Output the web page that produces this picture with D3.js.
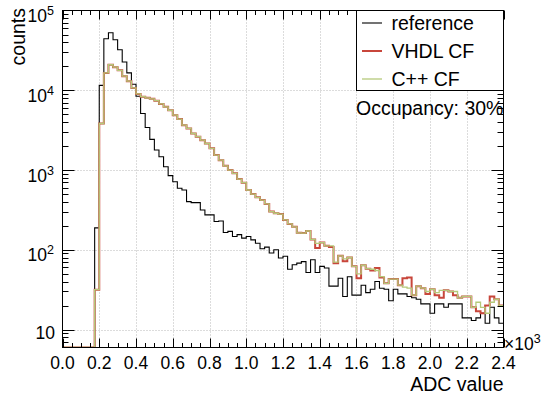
<!DOCTYPE html>
<html><head><meta charset="utf-8">
<script src="https://cdn.jsdelivr.net/npm/d3@7"></script>
<style>
body{margin:0;background:#fff}
svg{display:block}
text{font-family:"Liberation Sans",Arial,Helvetica,sans-serif;fill:#000}
</style>
</head><body>
<svg id="c" width="551" height="394"></svg>
<script>
// ---- data ----
const binWidth = 25;               // ADC units per bin
const binStarts = d3.range(0, 2400, binWidth);
const reference = [0,0,0,0,0,0,0,188,11500,44300,52500,43000,32200,22600,16500,11900,8400,5110,3420,2420,1780,1470,1100,850,714,590,562,402,390,390,316,274,274,226,230,165,170,147,155,140,147,133,121,103,108,91,100,79,83,57,65,68,71,52,75,52,62,59,35,35,44,26,46,27,27,36,29,32,40,33,32,23,32,28,28,26,25,24,21,21,16,21,21,19,21,21,21,14,14,13,14,16,12,19,14,12];
const vhdlCF = [0,0,0,0,0,0,0,31.6,3830,16500,20900,19500,17800,15000,13000,10700,9000,8300,8050,7800,7400,6750,6200,5620,4870,4350,3650,3320,2870,2620,2370,2150,1870,1540,1330,1130,1000,908,770,695,562,500,455,420,376,301,287,280,237,211,194,163,162,172,135,105,123,112,108,68,84,72,80,62,44,64,58,55,59,45,38,43,43,36,44,45,27,35,33,28,32,27,25,31,30,27,25,26,26,19,17,16,20,26,24,20];
const cppCF = [0,0,0,0,0,0,0,31.6,3830,16500,20900,19500,17800,15000,13000,10700,9000,8300,8050,7800,7400,6750,6200,5620,4870,4350,3650,3320,2870,2620,2370,2150,1870,1540,1330,1130,1000,908,770,695,562,500,455,420,376,301,287,280,237,211,194,163,162,172,135,120,123,112,112,70,84,77,80,62,50,64,58,57,55,46,38,43,43,36,34,33,27,35,33,30,32,29,31,31,30,30,25,26,26,19,22,19,16,22,24,20];
const seriesNames = ["reference", "VHDL CF", "C++ CF"];
const seriesColors = ["#000000", "#c8463b", "#b5c97a"];
const seriesWidths = [1.1, 2.0, 1.3];
const xTickValues = [0,200,400,600,800,1000,1200,1400,1600,1800,2000,2200,2400];
const xTickLabels = ["0.0","0.2","0.4","0.6","0.8","1.0","1.2","1.4","1.6","1.8","2.0","2.2","2.4"];
const yTickValues = [10,100,1000,10000,100000];
const yTickExps = ["", "2", "3", "4", "5"];

// ---- layout ----
const L = 62.5, R = 503.5, T = 10.5, B = 347.5;
const yMin = Math.pow(10, 0.775), yMax = 1e5;
const svg = d3.select("#c");
const x = d3.scaleLinear().domain([0, 2400]).range([L, R]);
const y = d3.scaleLog().domain([yMin, yMax]).range([B, T]);

// grid
const grid = svg.append("g").attr("stroke", "#b8b8b8").attr("stroke-width", 1).attr("stroke-dasharray", "1,2");
xTickValues.slice(1, -1).forEach(v => grid.append("line").attr("x1", Math.round(x(v)) + 0.5).attr("x2", Math.round(x(v)) + 0.5).attr("y1", T).attr("y2", B));
yTickValues.slice(0, -1).forEach(v => grid.append("line").attr("x1", L).attr("x2", R).attr("y1", Math.round(y(v)) + 0.5).attr("y2", Math.round(y(v)) + 0.5));

// histograms
svg.append("clipPath").attr("id", "clip").append("rect").attr("x", L).attr("y", T).attr("width", R - L).attr("height", B - T);
const line = d3.line().x(d => x(d[0])).y(d => y(Math.max(d[1], yMin))).curve(d3.curveStepAfter);
[reference, vhdlCF, cppCF].forEach((s, k) => {
  const pts = binStarts.map((b, i) => [b, s[i]]);
  pts.push([2400, s[s.length - 1]]);
  svg.append("path").attr("d", line(pts)).attr("fill", "none")
    .attr("stroke", seriesColors[k]).attr("stroke-width", seriesWidths[k])
    .attr("clip-path", "url(#clip)");
});

// frame
svg.append("rect").attr("x", L).attr("y", T).attr("width", R - L).attr("height", B - T)
  .attr("fill", "none").attr("stroke", "#000").attr("stroke-width", 1);

// x ticks (bottom and top)
const tk = svg.append("g").attr("stroke", "#000").attr("stroke-width", 1);
d3.range(0, 2401, 50).forEach(v => {
  const major = v % 200 === 0;
  const len = major ? 9 : 4.5;
  const px = Math.round(x(v)) + 0.5;
  tk.append("line").attr("x1", px).attr("x2", px).attr("y1", B).attr("y2", B - len);
  tk.append("line").attr("x1", px).attr("x2", px).attr("y1", T).attr("y2", T + len);
});
// y ticks (left and right)
for (let d = 1; d <= 5; d++) {
  for (let m = 1; m <= 9; m++) {
    const v = m * Math.pow(10, d - 1);
    if (v < yMin || v > yMax) continue;
    const len = m === 1 ? 12 : 6;
    const py = Math.round(y(v)) + 0.5;
    tk.append("line").attr("x1", L).attr("x2", L + len).attr("y1", py).attr("y2", py);
    tk.append("line").attr("x1", R).attr("x2", R - len).attr("y1", py).attr("y2", py);
  }
}

// x tick labels
xTickValues.forEach((v, i) => {
  svg.append("text").attr("x", x(v)).attr("y", 368.5).attr("text-anchor", "middle")
    .attr("font-size", 17.5).text(xTickLabels[i]);
});
const xm = svg.append("text").attr("x", 504).attr("y", 349.5).attr("font-size", 17.5);
xm.append("tspan").text("\u00d710");
xm.append("tspan").attr("dy", -7).attr("font-size", 12.5).text("3");

// y tick labels
yTickValues.forEach((v, i) => {
  const t = svg.append("text").attr("text-anchor", "end").attr("font-size", 17.5);
  if (yTickExps[i] === "") {
    t.attr("x", 55).attr("y", y(v) + 9.5).text("10");
  } else {
    t.attr("x", 54).attr("y", y(v) + 11.5);
    t.append("tspan").text("10");
    t.append("tspan").attr("dy", -7).attr("font-size", 12.5).text(yTickExps[i]);
  }
});

// axis titles
svg.append("text").attr("x", R).attr("y", 391).attr("text-anchor", "end").attr("font-size", 19.5).text("ADC value");
svg.append("text").attr("transform", "translate(25,8) rotate(-90)").attr("text-anchor", "end")
  .attr("font-size", 19.5).text("counts");

// legend
const lg = svg.append("g");
lg.append("rect").attr("x", 356.5).attr("y", 10.5).attr("width", 147).attr("height", 80)
  .attr("fill", "#fff").attr("stroke", "#000").attr("stroke-width", 1);
const ly = [23, 51, 79];
seriesNames.forEach((n, k) => {
  lg.append("line").attr("x1", 362).attr("x2", 382).attr("y1", ly[k]).attr("y2", ly[k])
    .attr("stroke", seriesColors[k]).attr("stroke-width", seriesWidths[k]);
  lg.append("text").attr("x", 391.5).attr("y", ly[k] + 6.8).attr("font-size", 19.5).text(n);
});

// annotation
svg.append("text").attr("x", 356).attr("y", 114.5).attr("font-size", 19.5).text("Occupancy: 30%");
</script>
</body></html>
